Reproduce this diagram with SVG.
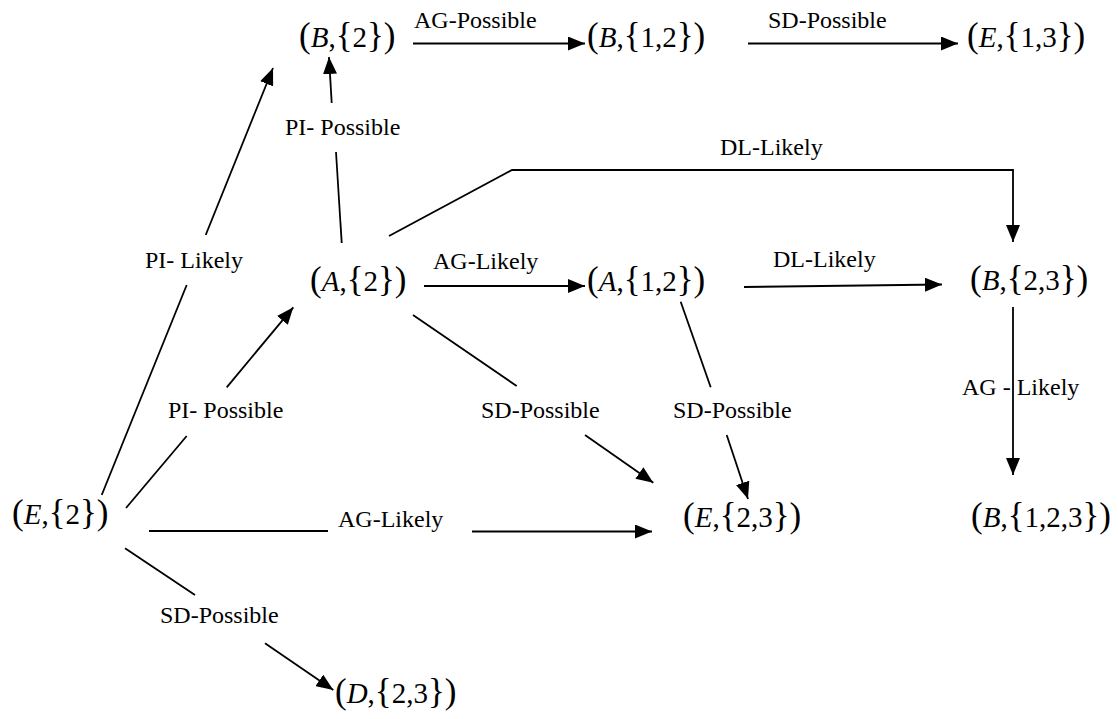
<svg xmlns="http://www.w3.org/2000/svg" width="1118" height="719" viewBox="0 0 1118 719">
  <style>
    .node { font-family: "Liberation Serif", "Times New Roman", serif; font-size: 29px; fill: #000; }
    .node .f { font-size: 35px; }
    .node .v { font-style: italic; }
    .lbl { font-family: "Liberation Serif", "Times New Roman", serif; font-size: 24px; fill: #000; }
    .edge { stroke: #000; stroke-width: 1.8; fill: none; }
  </style>
  <defs>
    <marker id="arr" markerUnits="userSpaceOnUse" markerWidth="18" markerHeight="14" refX="17" refY="7" orient="auto">
      <path d="M0,0 L17,7 L0,14 z" fill="#000"/>
    </marker>
  </defs>
  <rect width="1118" height="719" fill="#fff"/>

  <g id="connectors">
    <!-- PI- Likely : (E,{2}) to (B,{2}) -->
    <line class="edge" x1="101.7" y1="495" x2="186.7" y2="285"/>
    <line class="edge" x1="205.7" y1="235" x2="273" y2="68" marker-end="url(#arr)"/>
    <text class="lbl" x="145" y="268">PI- Likely</text>

    <!-- PI- Possible : (A,{2}) to (B,{2}) -->
    <line class="edge" x1="341.7" y1="243" x2="336" y2="152"/>
    <line class="edge" x1="331.7" y1="103" x2="329" y2="57" marker-end="url(#arr)"/>
    <text class="lbl" x="285" y="135">PI- Possible</text>

    <!-- AG-Possible : (B,{2}) to (B,{1,2}) -->
    <line class="edge" x1="413" y1="43.5" x2="585" y2="43.5" marker-end="url(#arr)"/>
    <text class="lbl" x="414" y="28">AG-Possible</text>

    <!-- SD-Possible : (B,{1,2}) to (E,{1,3}) -->
    <line class="edge" x1="748" y1="43.5" x2="958" y2="43.5" marker-end="url(#arr)"/>
    <text class="lbl" x="768" y="28">SD-Possible</text>

    <!-- DL-Likely : (A,{2}) to (B,{2,3}) over the top -->
    <polyline class="edge" points="389,236 512,170 1013,170 1013,242" marker-end="url(#arr)"/>
    <text class="lbl" x="720" y="155">DL-Likely</text>

    <!-- AG-Likely : (A,{2}) to (A,{1,2}) -->
    <line class="edge" x1="424" y1="286" x2="585" y2="286" marker-end="url(#arr)"/>
    <text class="lbl" x="433" y="269">AG-Likely</text>

    <!-- DL-Likely : (A,{1,2}) to (B,{2,3}) -->
    <line class="edge" x1="744" y1="287" x2="942" y2="284.5" marker-end="url(#arr)"/>
    <text class="lbl" x="773" y="267">DL-Likely</text>

    <!-- AG - Likely : (B,{2,3}) to (B,{1,2,3}) -->
    <line class="edge" x1="1013" y1="307" x2="1013" y2="475" marker-end="url(#arr)"/>
    <text class="lbl" x="962" y="395">AG - Likely</text>

    <!-- SD-Possible : (A,{1,2}) to (E,{2,3}) -->
    <line class="edge" x1="680.7" y1="301.7" x2="710.7" y2="387.3"/>
    <line class="edge" x1="726.7" y1="435" x2="748" y2="499" marker-end="url(#arr)"/>
    <text class="lbl" x="673" y="418">SD-Possible</text>

    <!-- SD-Possible : (A,{2}) to (E,{2,3}) -->
    <line class="edge" x1="413" y1="315" x2="516.7" y2="386"/>
    <line class="edge" x1="585" y1="435" x2="653.3" y2="482.7" marker-end="url(#arr)"/>
    <text class="lbl" x="481" y="418">SD-Possible</text>

    <!-- PI- Possible : (E,{2}) to (A,{2}) -->
    <line class="edge" x1="126" y1="508" x2="186.7" y2="436"/>
    <line class="edge" x1="226.7" y1="387.3" x2="293.3" y2="307.3" marker-end="url(#arr)"/>
    <text class="lbl" x="168" y="418">PI- Possible</text>

    <!-- AG-Likely : (E,{2}) to (E,{2,3}) -->
    <line class="edge" x1="149" y1="531" x2="328" y2="531"/>
    <line class="edge" x1="472" y1="531.5" x2="652" y2="531.5" marker-end="url(#arr)"/>
    <text class="lbl" x="338" y="527">AG-Likely</text>

    <!-- SD-Possible : (E,{2}) to (D,{2,3}) -->
    <line class="edge" x1="125" y1="548.3" x2="195" y2="595"/>
    <line class="edge" x1="265" y1="643.3" x2="333.3" y2="690" marker-end="url(#arr)"/>
    <text class="lbl" x="160" y="623">SD-Possible</text>
  </g>

  <g id="n-B2"><text class="node" x="299" y="47"><tspan class="f">(</tspan><tspan class="v">B</tspan>,<tspan class="f">{</tspan>2<tspan class="f">}</tspan><tspan class="f">)</tspan></text></g>
  <g id="n-B12"><text class="node" x="587" y="47"><tspan class="f">(</tspan><tspan class="v">B</tspan>,<tspan class="f">{</tspan>1,2<tspan class="f">}</tspan><tspan class="f">)</tspan></text></g>
  <g id="n-E13"><text class="node" x="967" y="47"><tspan class="f">(</tspan><tspan class="v">E</tspan>,<tspan class="f">{</tspan>1,3<tspan class="f">}</tspan><tspan class="f">)</tspan></text></g>
  <g id="n-A2"><text class="node" x="310" y="291"><tspan class="f">(</tspan><tspan class="v">A</tspan>,<tspan class="f">{</tspan>2<tspan class="f">}</tspan><tspan class="f">)</tspan></text></g>
  <g id="n-A12"><text class="node" x="587" y="291"><tspan class="f">(</tspan><tspan class="v">A</tspan>,<tspan class="f">{</tspan>1,2<tspan class="f">}</tspan><tspan class="f">)</tspan></text></g>
  <g id="n-B23"><text class="node" x="970" y="290"><tspan class="f">(</tspan><tspan class="v">B</tspan>,<tspan class="f">{</tspan>2,3<tspan class="f">}</tspan><tspan class="f">)</tspan></text></g>
  <g id="n-E2"><text class="node" x="12" y="524"><tspan class="f">(</tspan><tspan class="v">E</tspan>,<tspan class="f">{</tspan>2<tspan class="f">}</tspan><tspan class="f">)</tspan></text></g>
  <g id="n-E23"><text class="node" x="683" y="527"><tspan class="f">(</tspan><tspan class="v">E</tspan>,<tspan class="f">{</tspan>2,3<tspan class="f">}</tspan><tspan class="f">)</tspan></text></g>
  <g id="n-B123"><text class="node" x="971" y="527"><tspan class="f">(</tspan><tspan class="v">B</tspan>,<tspan class="f">{</tspan>1,2,3<tspan class="f">}</tspan><tspan class="f">)</tspan></text></g>
  <g id="n-D23"><text class="node" x="335" y="703"><tspan class="f">(</tspan><tspan class="v">D</tspan>,<tspan class="f">{</tspan>2,3<tspan class="f">}</tspan><tspan class="f">)</tspan></text></g>
</svg>
